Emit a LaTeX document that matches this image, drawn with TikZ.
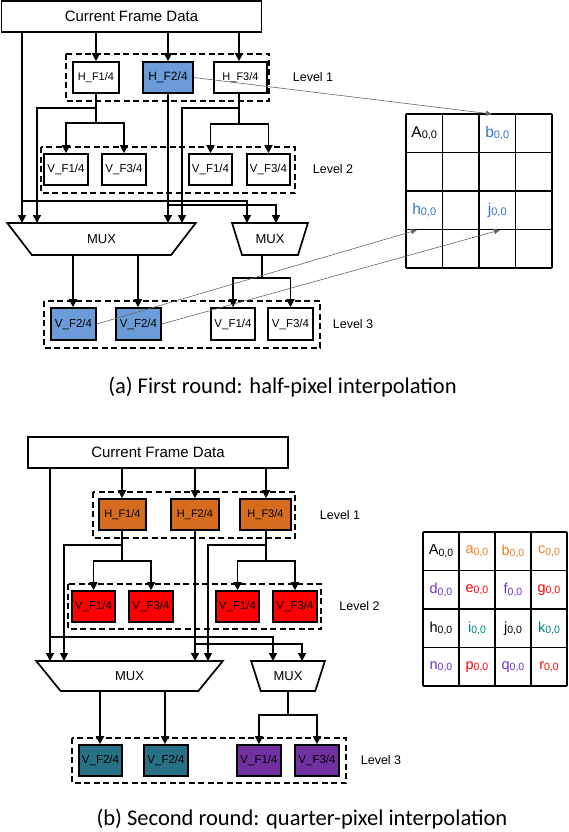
\documentclass[tikz,border=0pt]{standalone}
\usepackage{fontspec}
\setmainfont{Liberation Sans}
\newfontfamily\capfont{Carlito}
\usetikzlibrary{arrows.meta,shapes.geometric}
\definecolor{blueF}{RGB}{108,156,216}
\definecolor{blueT}{RGB}{52,118,204}
\definecolor{orangeF}{RGB}{214,108,30}
\definecolor{orangeT}{RGB}{242,124,32}
\definecolor{redF}{RGB}{255,0,0}
\definecolor{tealF}{RGB}{40,112,132}
\definecolor{tealT}{RGB}{0,128,128}
\definecolor{purpF}{RGB}{112,48,160}
\definecolor{purpT}{RGB}{112,48,205}
\newcommand\pxl[1]{{\fontsize{15.5}{15.5}\selectfont #1}\raisebox{-1.5pt}{\fontsize{11}{11}\selectfont 0,0}}
\newcommand\pxlb[1]{{\fontsize{14.5}{14.5}\selectfont #1}\raisebox{-1.5pt}{\fontsize{10.5}{10.5}\selectfont 0,0}}
\begin{document}
\begin{tikzpicture}[x=1pt,y=-1pt,
  box/.style={draw, line width=1.7pt, inner sep=0pt, minimum height=31pt, font=\fontsize{11.5}{11.5}\selectfont},
  hb/.style={box, font=\fontsize{11}{11}\selectfont},
  grp/.style={draw, line width=1.1pt, dash pattern=on 6pt off 3.5pt},
  ln/.style={line width=1.6pt},
  arr/.style={line width=1.6pt, -{Triangle[length=8pt,width=8pt]}},
  ptr/.style={draw=black!60, line width=0.6pt, -{Triangle[length=6pt,width=5pt]}},
  lvl/.style={font=\fontsize{12.5}{12.5}\selectfont},
  mux/.style={draw, trapezium, shape border rotate=180, trapezium angle=60.6, trapezium stretches=true, line width=1.7pt, minimum height=32pt, inner sep=0pt, font=\fontsize{13}{13}\selectfont},
  gline/.style={line width=1.6pt},
  captxt/.style={anchor=base, font=\capfont\fontsize{22.5}{22.5}\selectfont}]
\useasboundingbox[fill=white] (0,0) rectangle (569,832);

%%%%%%%%%%%%%%%% (a)
\node[box, minimum width=260pt, font=\fontsize{15}{15}\selectfont] (cfa) at (131.5,16.5) {Current Frame Data};
\draw[grp] (66,54) rectangle (269,101);
\node[hb, minimum width=46pt] (ha1) at (96,77.5) {H\_F1/4};
\node[hb, minimum width=50pt, fill=blueF, font=\fontsize{12}{12}\selectfont] (ha2) at (168,77.5) {H\_F2/4};
\node[hb, minimum width=53pt] (ha3) at (240.5,77.5) {H\_F3/4};
\node[lvl] (la1) at (313,77) {Level 1};

\draw[grp] (41,147) rectangle (295,193);
\node[box, minimum width=44pt] (va1) at (66,169.5) {V\_F1/4};
\node[box, minimum width=44pt] (va2) at (124,169.5) {V\_F3/4};
\node[box, minimum width=43pt] (va3) at (210.5,169.5) {V\_F1/4};
\node[box, minimum width=43pt] (va4) at (268.5,169.5) {V\_F3/4};
\node[lvl] (la2) at (333,169) {Level 2};

\node[mux, minimum width=189pt] (mxa1) at (101.5,239) {MUX};
\node[mux, minimum width=76pt] (mxa2) at (270,239) {MUX};

\draw[grp] (44,301) rectangle (320,348);
\node[box, minimum width=45pt, minimum height=32pt, fill=blueF] (oa1) at (73.5,324) {V\_F2/4};
\node[box, minimum width=45pt, minimum height=32pt, fill=blueF] (oa2) at (138.5,324) {V\_F2/4};
\node[box, minimum width=44pt, minimum height=32pt] (oa3) at (233,324) {V\_F1/4};
\node[box, minimum width=45pt, minimum height=32pt] (oa4) at (290.5,324) {V\_F3/4};
\node[lvl] (la3) at (353,324) {Level 3};

\coordinate (ai1) at (22,223);
\coordinate (ai2) at (37,223);
\coordinate (ai3) at (168,223);
\coordinate (ai4) at (182,223);
\coordinate (ai5) at (247,223);
\coordinate (ai6) at (276,223);
\coordinate (aj1) at (22,201);
\coordinate (aj2) at (168,205);
\coordinate (as1) at (96,123);
\coordinate (ab1) at (96,108);
\coordinate (as2) at (239,124);
\coordinate (ab2) at (239,108);
\coordinate (as3) at (262,278);
\coordinate (ao1) at (73,255);
\coordinate (ao2) at (138,255);

\draw[arr] (cfa.south -| ha1.north) -- (ha1.north);
\draw[arr] (cfa.south -| ha2.north) -- (ha2.north);
\draw[arr] (cfa.south -| as2) -- (ha3.north -| as2);
\draw[arr] (cfa.south -| ai1) -- (ai1);
\draw[arr] (aj1) -| (ai5);
\draw[arr] (aj2) -| (ai6);
\draw[arr] (ha2.south) -- (ai3);
\draw[ln] (ha1.south) -- (as1);
\draw[arr] (as1) -| (va1.north);
\draw[arr] (as1) -| (va2.north);
\draw[arr] (ab1) -| (ai2);
\draw[ln] (ha3.south -| as2) -- (as2);
\draw[arr] (as2) -| (va3.north);
\draw[arr] (as2) -| (va4.north);
\draw[arr] (ab2) -| (ai4);
\draw[arr] (ao1) -- (oa1.north -| ao1);
\draw[arr] (ao2) -- (oa2.north -| ao2);
\draw[ln] (as3 |- mxa2.south) -- (as3);
\draw[arr] (as3) -| (oa3.north);
\draw[arr] (as3) -| (oa4.north);

% grid (a)
\foreach \i in {0,...,4} {
  \draw[gline] ({406+36.5*\i},114) -- ({406+36.5*\i},268);
  \draw[gline] (406,{114+38.5*\i}) -- (552,{114+38.5*\i});
}
\node (gA) at (424.25,133.25) {\pxl{A}};
\node[text=blueT] (gb) at (497.25,133.25) {\pxl{b}};
\node[text=blueT] (gh) at (424.25,210.25) {\pxl{h}};
\node[text=blueT] (gj) at (497.25,210.25) {\pxl{j}};
\coordinate (tb) at (492,114);
\coordinate (th) at (417,230);
\coordinate (tj) at (500,230);
\draw[ptr] (ha2.east) -- (tb);
\draw[ptr] (oa1.east) -- (th);
\draw[ptr] (oa2.east) -- (tj);

\node[captxt] (capa) at (282.5,393) {(a) First round: half-pixel interpolation};

%%%%%%%%%%%%%%%% (b)
\node[box, minimum width=260pt, font=\fontsize{15}{15}\selectfont] (cfb) at (158,452.5) {Current Frame Data};
\draw[grp] (93,492) rectangle (295,538);
\node[hb, minimum width=47pt, fill=orangeF] (hb1) at (122.5,514.5) {H\_F1/4};
\node[hb, minimum width=48pt, fill=orangeF] (hb2) at (195,514.5) {H\_F2/4};
\node[hb, minimum width=51pt, fill=orangeF] (hb3) at (265.5,514.5) {H\_F3/4};
\node[lvl] (lb1) at (340,515) {Level 1};

\draw[grp] (68,584) rectangle (321,629);
\node[box, minimum width=43pt, fill=redF] (vb1) at (93.5,606.5) {V\_F1/4};
\node[box, minimum width=44pt, fill=redF] (vb2) at (151,606.5) {V\_F3/4};
\node[box, minimum width=43pt, fill=redF] (vb3) at (237.5,606.5) {V\_F1/4};
\node[box, minimum width=44pt, fill=redF] (vb4) at (295,606.5) {V\_F3/4};
\node[lvl] (lb2) at (359.5,606) {Level 2};

\node[mux, minimum width=187pt, minimum height=30pt] (mxb1) at (129.5,676) {MUX};
\node[mux, minimum width=74pt, minimum height=30pt] (mxb2) at (288,676) {MUX};

\draw[grp] (72,738) rectangle (346,783);
\node[box, minimum width=43pt, fill=tealF] (ob1) at (100.5,760.5) {V\_F2/4};
\node[box, minimum width=44pt, fill=tealF] (ob2) at (166,760.5) {V\_F2/4};
\node[box, minimum width=44pt, fill=purpF] (ob3) at (259,760.5) {V\_F1/4};
\node[box, minimum width=44pt, fill=purpF] (ob4) at (317,760.5) {V\_F3/4};
\node[lvl] (lb3) at (381,760) {Level 3};

\coordinate (bi1) at (50,661);
\coordinate (bi2) at (64,661);
\coordinate (bi3) at (195,661);
\coordinate (bi4) at (208,661);
\coordinate (bi5) at (273,661);
\coordinate (bi6) at (302,661);
\coordinate (bj1) at (50,637);
\coordinate (bj2) at (195,644);
\coordinate (bs1) at (122,561);
\coordinate (bb1) at (122,545);
\coordinate (bs2) at (266,561);
\coordinate (bb2) at (266,545);
\coordinate (bs3) at (288,715);
\coordinate (bo1) at (100,691);
\coordinate (bo2) at (165,691);

\draw[arr] (cfb.south -| bs1) -- (hb1.north -| bs1);
\draw[arr] (cfb.south -| hb2.north) -- (hb2.north);
\draw[arr] (cfb.south -| bs2) -- (hb3.north -| bs2);
\draw[arr] (cfb.south -| bi1) -- (bi1);
\draw[arr] (bj1) -| (bi5);
\draw[arr] (bj2) -| (bi6);
\draw[arr] (hb2.south) -- (bi3);
\draw[ln] (hb1.south -| bs1) -- (bs1);
\draw[arr] (bs1) -| (vb1.north);
\draw[arr] (bs1) -| (vb2.north);
\draw[arr] (bb1) -| (bi2);
\draw[ln] (hb3.south -| bs2) -- (bs2);
\draw[arr] (bs2) -| (vb3.north);
\draw[arr] (bs2) -| (vb4.north);
\draw[arr] (bb2) -| (bi4);
\draw[arr] (bo1) -- (ob1.north -| bo1);
\draw[arr] (bo2) -- (ob2.north -| bo2);
\draw[ln] (bs3 |- mxb2.south) -- (bs3);
\draw[arr] (bs3) -| (ob3.north);
\draw[arr] (bs3) -| (ob4.north);

% grid (b)
\foreach \i in {0,...,4} {
  \draw[gline] ({423+36*\i},532) -- ({423+36*\i},686);
  \draw[gline] (423,{532+38.5*\i}) -- (567,{532+38.5*\i});
}
\node (qA) at (441,551.25) {\pxlb{A}};
\node[text=orangeT] (qa) at (477,551.25) {\pxlb{a}};
\node[text=orangeT] (qb) at (513,551.25) {\pxlb{b}};
\node[text=orangeT] (qc) at (549,551.25) {\pxlb{c}};
\node[text=purpT] (qd) at (441,589.75) {\pxlb{d}};
\node[text=redF] (qe) at (477,589.75) {\pxlb{e}};
\node[text=purpT] (qf) at (513,589.75) {\pxlb{f}};
\node[text=redF] (qg) at (549,589.75) {\pxlb{g}};
\node (qh) at (441,628.25) {\pxlb{h}};
\node[text=tealT] (qi) at (477,628.25) {\pxlb{i}};
\node (qj) at (513,628.25) {\pxlb{j}};
\node[text=tealT] (qk) at (549,628.25) {\pxlb{k}};
\node[text=purpT] (qn) at (441,666.75) {\pxlb{n}};
\node[text=redF] (qp) at (477,666.75) {\pxlb{p}};
\node[text=purpT] (qq) at (513,666.75) {\pxlb{q}};
\node[text=redF] (qr) at (549,666.75) {\pxlb{r}};

\node[captxt] (capb) at (302,825) {(b) Second round: quarter-pixel interpolation};
\end{tikzpicture}
\end{document}
